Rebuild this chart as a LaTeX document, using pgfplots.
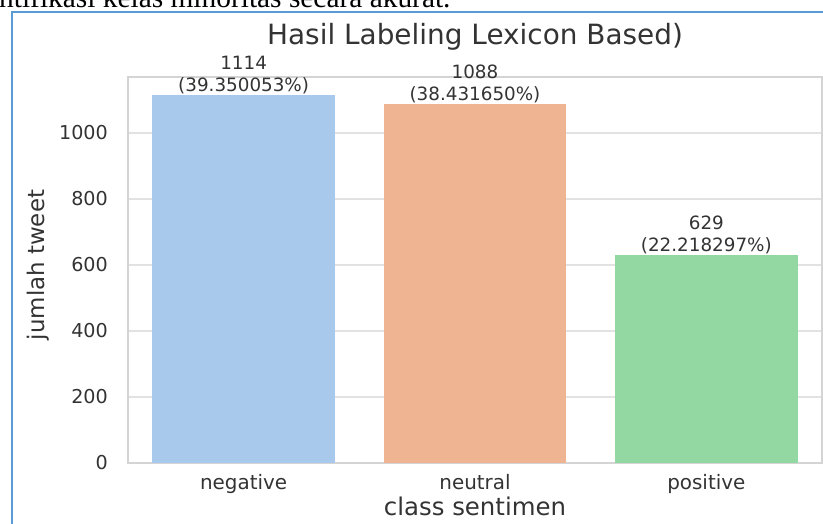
\documentclass[border=0pt]{standalone}
\usepackage{fontspec}
\setmainfont{DejaVu Sans}
\newfontfamily\docserif{Liberation Serif}
\usepackage{pgfplots}
\pgfplotsset{compat=1.18}
\definecolor{cneg}{HTML}{A8C8EC}
\definecolor{cneu}{HTML}{EFB592}
\definecolor{cpos}{HTML}{93D8A3}
\definecolor{txt}{HTML}{333333}
\definecolor{gridc}{HTML}{E2E2E2}
\definecolor{spinec}{HTML}{D4D4D4}
\definecolor{boxblue}{HTML}{5B9BD5}
\begin{document}
\begin{tikzpicture}
\useasboundingbox (0,0) rectangle (823bp,-524bp);
\begin{scope}
\clip (0,0) rectangle (823bp,-524bp);
\node[anchor=base west, inner sep=0pt, font=\docserif\fontsize{29.5}{36}\selectfont] at (-1bp,-7bp) {ntifikasi kelas minoritas secara akurat.};
\draw[boxblue, line width=2bp] (12bp,-530bp) -- (12bp,-12bp) -- (830bp,-12bp);
\end{scope}
\begin{axis}[
  at={(128bp,-463bp)}, anchor=south west,
  scale only axis, width=694bp, height=386bp,
  xmin=-0.5, xmax=2.5, ymin=0, ymax=1169.7,
  xtick={0,1,2}, xticklabels={negative,neutral,positive},
  ytick={0,200,400,600,800,1000},
  /pgf/number format/assume math mode=true,
  /pgf/number format/1000 sep={},
  ymajorgrids, major grid style={gridc, line width=1.1bp},
  axis line style={spinec, line width=1.1bp},
  major tick length=0pt,
  tick label style={txt},
  yticklabel style={font=\fontsize{19.2}{23}\selectfont, inner sep=0pt, xshift=-20bp},
  xticklabel style={font=\fontsize{20}{24}\selectfont, inner sep=0pt, yshift=-11bp},
  xlabel={class sentimen}, ylabel={jumlah tweet},
  xlabel style={font=\fontsize{24.5}{29}\selectfont, text=txt, at={(axis description cs:0.5,0)}, anchor=north, yshift=-34bp, inner sep=0pt},
  ylabel style={font=\fontsize{23}{28}\selectfont, text=txt, at={(axis description cs:-0.1297,0.513)}, anchor=center, inner sep=0pt},
  title={Hasil Labeling Lexicon Based)},
  title style={font=\fontsize{28}{34}\selectfont, text=txt, at={(axis description cs:0.5,1.07)}, anchor=base, inner sep=0pt},
  ybar, bar width=0.79,
  every axis plot/.append style={bar shift=0pt, draw=none},
  nodes near coords, point meta=explicit symbolic,
  nodes near coords style={align=center, font=\fontsize{18.4}{22}\selectfont, text=txt, inner sep=1bp},
  clip=false,
]
\addplot[fill=cneg] coordinates {(0,1114) [{1114\\(39.350053\%)}]};
\addplot[fill=cneu] coordinates {(1,1088) [{1088\\(38.431650\%)}]};
\addplot[fill=cpos] coordinates {(2,629) [{629\\(22.218297\%)}]};
\end{axis}
\end{tikzpicture}
\end{document}
